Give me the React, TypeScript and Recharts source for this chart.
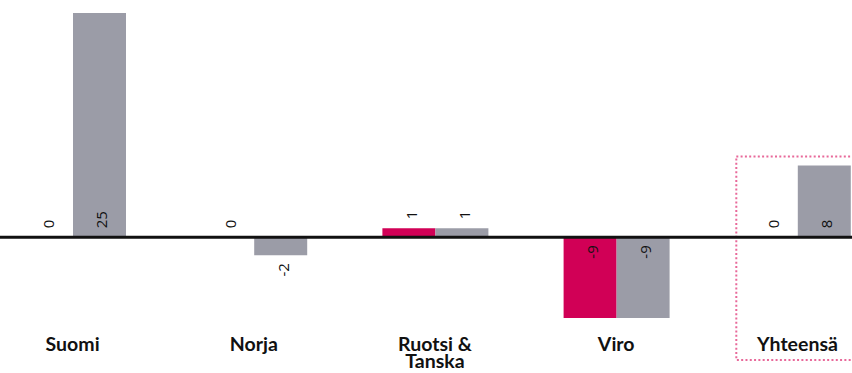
import React from 'react'
import { BarChart, Bar, XAxis, YAxis, LabelList, ReferenceLine, ReferenceArea } from 'recharts'

const categories = ['Suomi', 'Norja', 'Ruotsi & Tanska', 'Viro', 'Yhteensä']
const redValues = [0, 0, 1, -9, 0]
const greyValues = [25, -2, 1, -9, 8]

const data = categories.map((name, i) => ({
  name,
  red: redValues[i],
  grey: greyValues[i],
}))

// value labels sit next to the zero line, rotated; pushed past the bar end if they don't fit
function ValueLabel(props: any) {
  const { x, y, width, height, value } = props
  const top = Math.min(y, y + height)
  const bottom = Math.max(y, y + height)
  const cx = x + width / 2 + 2
  const len = String(value).length * 9
  const h = bottom - top
  let ty: number
  let anchor: 'start' | 'end'
  if (value >= 0) {
    ty = h >= len + 20 ? bottom - 9 : top - 9
    anchor = 'start'
  } else {
    ty = h >= len + 20 ? top + 8 : bottom + 8
    anchor = 'end'
  }
  return (
    <text
      x={cx}
      y={ty}
      transform={`rotate(-90 ${cx} ${ty})`}
      textAnchor={anchor}
      dominantBaseline="central"
      fontFamily="'Open Sans', sans-serif"
      fontSize={15}
      fill="#111"
    >
      {value}
    </text>
  )
}

function CategoryTick(props: any) {
  const { x, y, payload } = props
  const lines: string[] = payload.value.includes(' & ')
    ? [payload.value.split(' & ')[0] + ' &', payload.value.split(' & ')[1]]
    : [payload.value]
  return (
    <g>
      {lines.map((l, i) => (
        <text
          key={i}
          x={x}
          y={y + 32.5 + i * 17}
          textAnchor="middle"
          fontFamily="Lato, sans-serif"
          fontWeight={700}
          fontSize={19.5}
          fill="#111"
        >
          {l}
        </text>
      ))}
    </g>
  )
}

export default function App() {
  return (
    <div
      style={{
        position: 'absolute',
        left: 0,
        top: 0,
        width: 852,
        height: 373,
        overflow: 'hidden',
        background: '#fff',
      }}
    >
      <div style={{ marginLeft: -18.5 }}>
        <BarChart
          width={906}
          height={373}
          data={data}
          margin={{ top: 13, right: 0, bottom: 0, left: 0 }}
          barSize={53}
          barGap={0}
        >
          <XAxis
            dataKey="name"
            axisLine={false}
            tickLine={false}
            tickSize={0}
            tickMargin={0}
            height={55}
            interval={0}
            tick={<CategoryTick />}
          />
          <YAxis hide domain={[-9, 25]} />
          <ReferenceArea
            x1="Yhteensä"
            x2="Yhteensä"
            y1={9}
            y2={-9}
            ifOverflow="visible"
            shape={(p: any) => (
              <rect
                x={p.x + 29.5}
                y={p.y}
                width={p.width}
                height={p.height + 42}
                fill="none"
                stroke="#e8699a"
                strokeWidth={2}
                strokeDasharray="2 2.3"
              />
            )}
          />
          <Bar dataKey="red" fill="#d10056" minPointSize={0.01} isAnimationActive={false}>
            <LabelList dataKey="red" content={<ValueLabel />} />
          </Bar>
          <Bar dataKey="grey" fill="#9b9ca7" minPointSize={0.01} isAnimationActive={false}>
            <LabelList dataKey="grey" content={<ValueLabel />} />
          </Bar>
          <ReferenceLine y={0} stroke="#111" strokeWidth={3} />
        </BarChart>
      </div>
    </div>
  )
}
